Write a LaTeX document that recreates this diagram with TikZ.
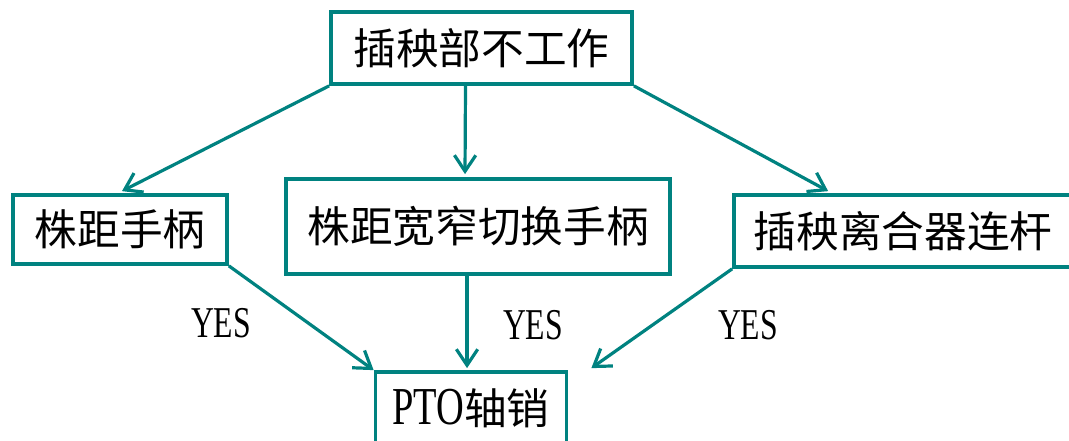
\documentclass[tikz,border=0pt]{standalone}
\usepackage{fontspec}
\setmainfont{Liberation Serif}
\newfontfamily\cjk{Noto Sans CJK SC}
\usetikzlibrary{arrows.meta,calc}
\definecolor{tealc}{RGB}{0,130,128}
\tikzset{
  box/.style={draw=tealc, line width=2.8pt, fill=white, inner sep=0pt, font=\cjk\fontsize{32pt}{36pt}\selectfont},
  conn/.style={draw=tealc, line width=2.4pt, -{Straight Barb[length=12pt,width=16pt,line width=2.4pt]}},
  yes/.style={font=\fontsize{33pt}{36pt}\selectfont, inner sep=0pt}
}
\newcommand{\narrow}[1]{\scalebox{0.72}[1]{#1}}
\begin{document}
\begin{tikzpicture}[x=0.75pt,y=-0.75pt]
\useasboundingbox (0,0) rectangle (1069,441);
\clip (0,0) rectangle (1069,441);
\node[box, minimum width=301*0.75pt, minimum height=72*0.75pt] (T) at (481.5,48) {插秧部不工作};
\node[box, minimum width=214*0.75pt, minimum height=69*0.75pt] (L) at (120,229.5) {株距手柄};
\node[box, minimum width=384*0.75pt, minimum height=95*0.75pt] (M) at (478,226.5) {株距宽窄切换手柄};
\node[box, minimum width=345*0.75pt, minimum height=72*0.75pt] (R) at (906.5,231) {\hspace*{-5pt}插秧离合器连杆};
\node[box, minimum width=191*0.75pt, minimum height=80*0.75pt] (B) at (471,412) {\raisebox{8pt}{{\rmfamily\fontsize{40pt}{44pt}\selectfont\narrow{PTO}}轴销}};
\coordinate (Ms) at ($(M.south)+(-11,0)$);
\coordinate (Tm) at ($(T.south)+(-16,0)$);
\coordinate (Mn) at ($(M.north)+(-13,-3)$);
\coordinate (Rn) at ($(R.north west)+(96,-2)$);
\coordinate (Bm) at ($(B.north)+(-4,-2)$);
\coordinate (Br) at ($(B.north east)+(23,-2)$);
\draw[conn] (T.south west) -- ($(L.north)+(2,-2)$);
\draw[conn] (Tm) -- (Mn);
\draw[conn] (T.south east) -- (Rn);
\draw[conn] (L.south east) -- (B.north west);
\draw[conn] (Ms) -- (Bm);
\draw[conn] (R.south west) -- (Br);
\node[yes] (y1) at (221,323) {\narrow{YES}};
\node[yes] (y2) at (533,325) {\narrow{YES}};
\node[yes] (y3) at (748,325) {\narrow{YES}};
\end{tikzpicture}
\end{document}
